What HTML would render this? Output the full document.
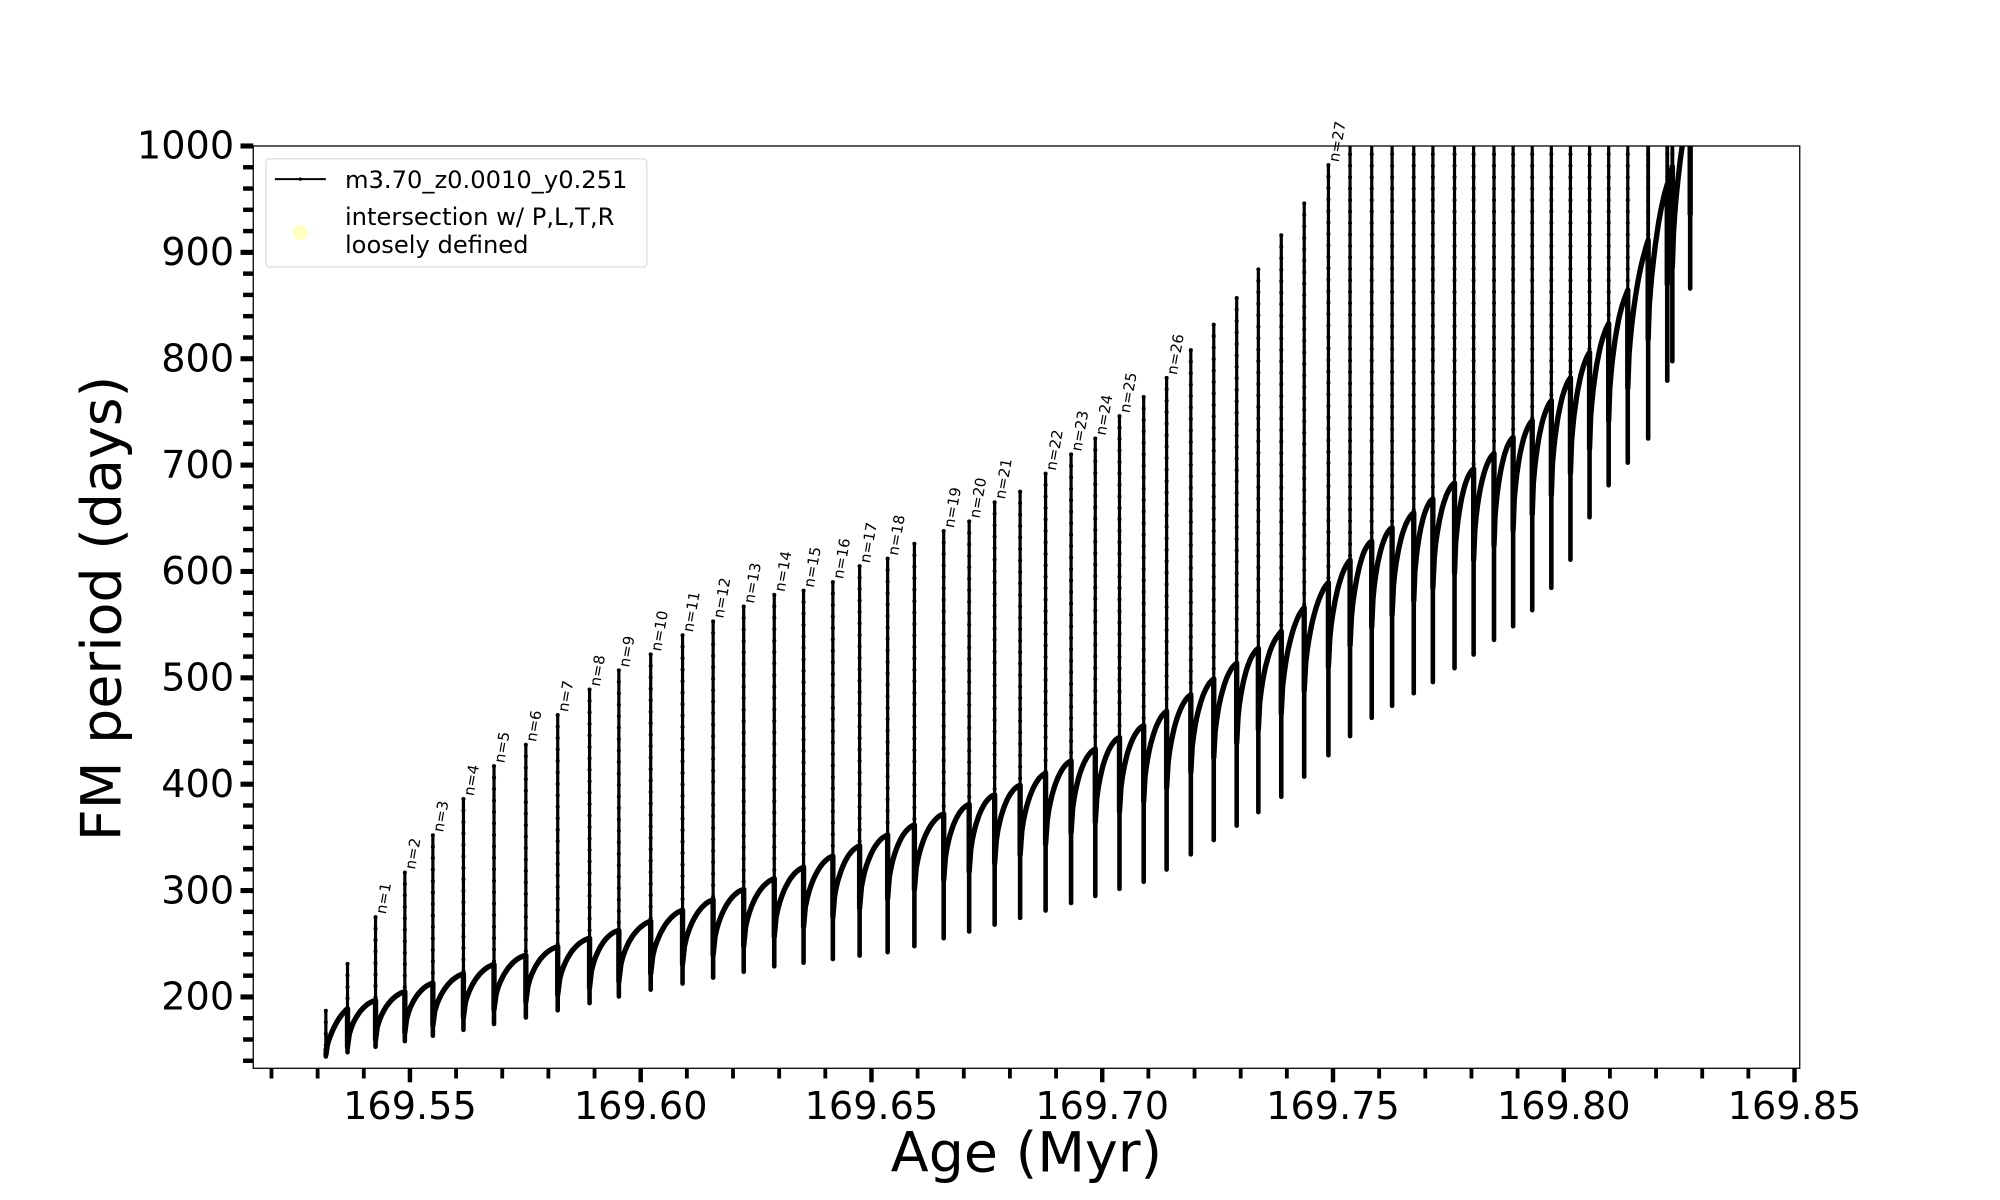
<!DOCTYPE html>
<html><head><meta charset="utf-8"><style>
html,body{margin:0;padding:0;background:#fff;}
svg{display:block;font-family:"DejaVu Sans","Liberation Sans",sans-serif;}
</style></head><body>
<svg id="s" width="2000" height="1200" viewBox="-2.8 -1.6 1570 942" preserveAspectRatio="none" xmlns="http://www.w3.org/2000/svg">
<defs><clipPath id="c"><rect x="196" y="113" width="1214" height="724"/></clipPath></defs>
<rect x="-10" y="-10" width="1600" height="960" fill="#fff"/>
<g id="data" clip-path="url(#c)"></g>
<rect x="196" y="113" width="1214" height="724" fill="none" stroke="#000" stroke-width="1"/>
<g id="ticks"></g>
<g id="labels"></g>
<text x="80" y="476" font-size="43.5" text-anchor="middle" transform="rotate(-90 80 476)" dominant-baseline="middle">FM period (days)</text>
<text x="803" y="918" font-size="43.5" text-anchor="middle">Age (Myr)</text>
<rect x="206" y="123" width="299" height="85" rx="3" fill="#fff" fill-opacity="0.8" stroke="#ddd" stroke-width="1"/>
<line x1="213" y1="139" x2="253" y2="139" stroke="#000" stroke-width="1.5"/>
<circle cx="233" cy="139" r="1.3" fill="#000"/>
<text x="268" y="146" font-size="19">m3.70_z0.0010_y0.251</text>
<circle cx="233" cy="181" r="6" fill="#ffffb3" fill-opacity="0.8"/>
<text x="268" y="175" font-size="19">intersection w/ P,L,T,R</text>
<text x="268" y="197" font-size="19">loosely defined</text>
</svg>
<script>
var NS="http://www.w3.org/2000/svg";
function Y(v){return 113+(1000-v)*0.835;}
function X(a){return 319+(a-169.55)*3623;}
function interp(pts,x){if(x<=pts[0][0])return pts[0][1];for(var i=1;i<pts.length;i++){if(x<=pts[i][0]){var a=pts[i-1],b=pts[i];return a[1]+(b[1]-a[1])*(x-a[0])/(b[0]-a[0]);}}return pts[pts.length-1][1];}
function el(t,at,p){var e=document.createElementNS(NS,t);for(var k in at)e.setAttribute(k,at[k]);(p||document.getElementById('data')).appendChild(e);return e;}
var env=[[253,172],[270,189],[315,205],[400,236],[500,268],[600,309],[700,355],[800,400],[900,458],[1000,540],[1067,623],[1101,650],[1133,678],[1165,706],[1196,737],[1211,755],[1226,776],[1241,799],[1257,827],[1273,859],[1288,901],[1305,960],[1322,1030]];
var bot=[[253,144],[300,155],[400,178],[500,205],[600,228],[700,243],[800,275],[900,310],[1000,385],[1072,461],[1132,503],[1196,558],[1226,600],[1243,647],[1260,681],[1291,725],[1307,783],[1324,866]];
var sp=[[253,187],[270,231],[292,275],[315,317],[337,352],[361,386],[385,417],[410,437],[435,465],[460,489],[483,507],[508,522],[533,540],[557,553],[581,567],[605,578],[628,582],[651,590],[672,605],[694,612],[715,626],[738,638],[758,647],[778,665],[798,675],[818,692],[838,710],[857,725],[876,746],[895,764],[913,782],[932,808],[950,832],[968,857],[985,884],[1003,916],[1021,946],[1040,982]];
var extra=[1057,1074,1090,1107,1122,1139,1154,1170,1185,1200,1215,1230,1245,1260,1275,1291,1306,1310];
extra.forEach(function(x){sp.push([x,1100]);});
sp.push([1324,1000]);
function depth(x){return 35+60*Math.max(0,x-253)/1070;}
sp.forEach(function(s){var x=s[0];var b=interp(bot,x);var t=s[1];
 var y1=Y(t),y2=Y(b);var w=x>1280?3:2.5;
 el('line',{x1:x,y1:y1,x2:x,y2:y2,stroke:'#000','stroke-width':w});
 for(var y=y1;y<y2;y+=9){el('circle',{cx:x,cy:y,r:1.6,fill:'#000'});}
 var yd=Y(interp(env,x)-depth(x));
 el('line',{x1:x,y1:Math.min(yd,y2-6),x2:x,y2:y2,stroke:'#000','stroke-width':3.6,'stroke-linecap':'round'});
});
var d="";
for(var i=0;i<sp.length-1;i++){var x0=sp[i][0],x1=sp[i+1][0];
 var e0=interp(env,x0); var dip=i==0?145:e0-depth(x0);
 for(var k=0;k<=16;k++){var f=k/16;var x=x0+(x1-x0)*f;var e=interp(env,x);
  var v=dip+(e-dip)*Math.pow(1-Math.pow(1-f,2.2),0.55);
  d+=(i==0&&k==0?"M":"L")+x.toFixed(1)+","+Y(v).toFixed(1)+" ";}
 d+="L"+x1+","+Y(interp(env,x1)-depth(x1)).toFixed(1)+" ";
}
el('path',{d:d,fill:'none',stroke:'#000','stroke-width':4.2,'stroke-linejoin':'round'});
var lab=[292,315,337,361,385,410,435,460,483,508,533,557,581,605,628,651,672,694,738,758,778,818,838,857,876,913,1040];
var L=document.getElementById('labels');
lab.forEach(function(x,i){var s=sp.filter(function(q){return q[0]==x;})[0];var y=Y(s[1])-2;var tx=x+8;
 el('text',{x:tx,y:y,'font-size':11.7,transform:'rotate(-80 '+tx+' '+y+')'},L).textContent='n='+(i+1);});
var T=document.getElementById('ticks');
for(var v=140;v<=1000;v+=20){var y=Y(v);var maj=(v%100==0);
 el('line',{x1:196,y1:y,x2:196-(maj?10:8),y2:y,stroke:'#000','stroke-width':maj?4:3.5},T);
 if(maj&&v>=200)el('text',{x:181,y:y+10,'font-size':30,'text-anchor':'end'},T).textContent=v;}
for(var k=0;k<=40;k++){var a=169.52+k*0.01;var x=X(a);if(x<196||x>1411)continue;var maj=(Math.round(a*1000)%50==0);
 el('line',{x1:x,y1:837,x2:x,y2:837+(maj?11:8),stroke:'#000','stroke-width':maj?3.5:3},T);
 if(maj)el('text',{x:x,y:877,'font-size':30,'text-anchor':'middle'},T).textContent=a.toFixed(2);}
</script>
</body></html>
